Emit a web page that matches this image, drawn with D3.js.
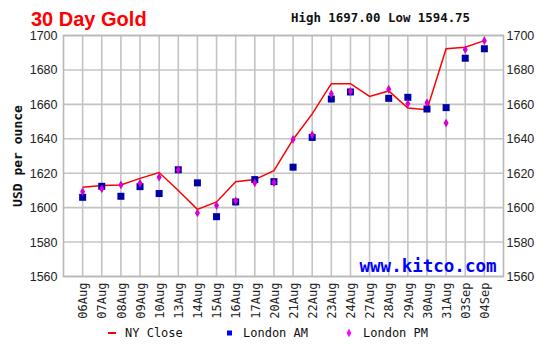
<!DOCTYPE html>
<html>
<head>
<meta charset="utf-8">
<script src="https://cdn.jsdelivr.net/npm/d3@7"></script>
<style>
html,body{margin:0;padding:0;background:#fff;}
svg{display:block;}
</style>
</head>
<body>
<svg id="chart" width="550" height="346"></svg>
<script>
const dates = ["06Aug","07Aug","08Aug","09Aug","10Aug","13Aug","14Aug","15Aug","16Aug","17Aug","20Aug","21Aug","22Aug","23Aug","24Aug","27Aug","28Aug","29Aug","30Aug","31Aug","03Sep","04Sep"];
const nyClose = [1611.8,1612.8,1613.2,1617,1620.4,1610,1599,1603.3,1615,1616.3,1621.5,1639.6,1654.5,1672,1672,1664.6,1667.8,1657.9,1656.9,1692.3,1693.2,1697];
const londonAM = [1606,1612.4,1606.6,1612.2,1608.2,1622,1614.4,1594.75,1603.3,1616.3,1615.1,1623.5,1640.8,1663.1,1667.2,null,1663.5,1664.1,1657.3,1658.1,1686.8,1692.3];
const londonPM = [1609.3,1610.9,1613.2,1614.2,1617.7,1622,1596.9,1601.2,1604,1614.4,1614.6,1639.6,1642.3,1666.1,1667.6,null,1668.8,1660.4,1661,1649.1,1691.8,1697];
const yTicks = [1560,1580,1600,1620,1640,1660,1680,1700];
const title = "30 Day Gold";
const highLow = "High 1697.00 Low 1594.75";
const yLabel = "USD per ounce";
const watermark = "www.kitco.com";
const legendItems = ["NY Close","London AM","London PM"];

const svg = d3.select("#chart");
const L = 63.5, R = 503.5, T = 35.5, B = 276.5;
const x = d3.scalePoint().domain(dates).range([L, R]).padding(1);
const y = d3.scaleLinear().domain([1560,1700]).range([B, T]);

const mono = "'DejaVu Sans Mono','Liberation Mono',monospace";
const sans = "'Liberation Sans',Arial,sans-serif";
const gridColor = "#c4c4c4";

// grid
const g = svg.append("g");
g.selectAll(".hg").data(yTicks).join("line")
  .attr("x1", L).attr("x2", R).attr("y1", d => y(d)).attr("y2", d => y(d))
  .attr("stroke", gridColor).attr("stroke-width", 1.6);
g.selectAll(".vg").data(dates).join("line")
  .attr("x1", d => x(d)).attr("x2", d => x(d)).attr("y1", T).attr("y2", B)
  .attr("stroke", gridColor).attr("stroke-width", 1.6);
g.append("rect").attr("x", L).attr("y", T).attr("width", R - L).attr("height", B - T)
  .attr("fill", "none").attr("stroke", "#b8b8b8").attr("stroke-width", 1.6);

// axes
const fmt = d3.format("d");
const yl = d3.axisLeft(y).tickValues(yTicks).tickFormat(fmt).tickSize(0).tickPadding(6);
const yr = d3.axisRight(y).tickValues(yTicks).tickFormat(fmt).tickSize(0).tickPadding(3);
const axL = svg.append("g").attr("transform", `translate(${L},0)`).call(yl);
const axR = svg.append("g").attr("transform", `translate(${R},0)`).call(yr);
[axL, axR].forEach(a => {
  a.select(".domain").remove();
  a.selectAll("text").attr("font-family", sans).attr("font-size", 12.5).attr("fill", "#222");
});
const xa = d3.axisBottom(x).tickSize(0).tickPadding(0);
const axX = svg.append("g").attr("transform", `translate(0,${B})`).call(xa);
axX.select(".domain").remove();
axX.selectAll("text")
  .attr("font-family", mono).attr("font-size", 12).attr("fill", "#222")
  .attr("transform", "rotate(-90)")
  .attr("text-anchor", "end").attr("dy", "0.35em").attr("x", -6).attr("y", 0);

// watermark
svg.append("text").attr("x", R - 7).attr("y", B - 5).attr("text-anchor", "end")
  .attr("font-family", mono).attr("font-weight", "bold").attr("font-size", 17.5)
  .attr("fill", "#0000ff").text(watermark);

// NY close line
const line = d3.line().x((d, i) => x(dates[i])).y(d => y(d));
svg.append("path").datum(nyClose).attr("d", line)
  .attr("fill", "none").attr("stroke", "#ff0000").attr("stroke-width", 1.5);

// London AM squares
svg.append("g").selectAll("rect")
  .data(londonAM.map((v, i) => ({v, d: dates[i]})).filter(p => p.v != null))
  .join("rect")
  .attr("x", p => x(p.d) - 3.5).attr("y", p => y(p.v) - 3.5)
  .attr("width", 7).attr("height", 7).attr("fill", "#0000a8");

// London PM diamonds
const dia = d3.symbol().type(d3.symbolDiamond).size(22);
svg.append("g").selectAll("path")
  .data(londonPM.map((v, i) => ({v, d: dates[i]})).filter(p => p.v != null))
  .join("path")
  .attr("transform", p => `translate(${x(p.d)},${y(p.v)})`)
  .attr("d", dia).attr("fill", "#d400d4");

// titles
svg.append("text").attr("x", 31).attr("y", 26)
  .attr("font-family", sans).attr("font-weight", "bold").attr("font-size", 20)
  .attr("fill", "#ff0000").text(title);
svg.append("text").attr("x", 291).attr("y", 22)
  .attr("font-family", mono).attr("font-weight", "bold").attr("font-size", 12.4)
  .attr("fill", "#111").text(highLow);
svg.append("text")
  .attr("transform", "translate(22,156) rotate(-90)")
  .attr("text-anchor", "middle")
  .attr("font-family", mono).attr("font-weight", "bold").attr("font-size", 13)
  .attr("fill", "#111").text(yLabel);

// legend
const ly = 333;
const lg = svg.append("g");
const lx = [108, 226, 346];
lg.append("line").attr("x1", lx[0]).attr("x2", lx[0] + 8).attr("y1", ly).attr("y2", ly)
  .attr("stroke", "#ff0000").attr("stroke-width", 2);
lg.append("rect").attr("x", lx[1] + 1).attr("y", ly - 2.5).attr("width", 5).attr("height", 5).attr("fill", "#0000ff");
lg.append("path").attr("transform", `translate(${lx[2] + 3},${ly})`).attr("d", d3.symbol().type(d3.symbolDiamond).size(20)).attr("fill", "#ff00ff");
lg.selectAll("text").data(legendItems).join("text")
  .attr("x", (d, i) => lx[i] + 17).attr("y", ly + 4)
  .attr("font-family", mono).attr("font-size", 12).attr("fill", "#111")
  .text(d => d);
</script>
</body>
</html>
